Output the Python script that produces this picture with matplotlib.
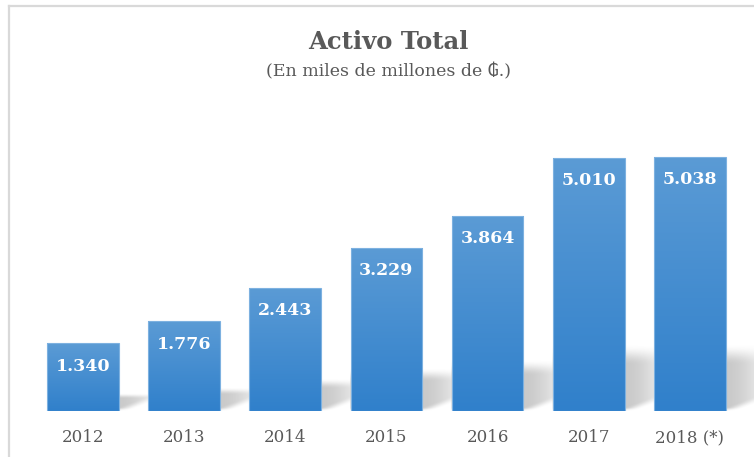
import numpy as np
import matplotlib
matplotlib.use("Agg")
import matplotlib.pyplot as plt
from matplotlib.colors import LinearSegmentedColormap
from matplotlib.lines import Line2D

# data
years = ['2012', '2013', '2014', '2015', '2016', '2017', '2018 (*)']
activo = [1340, 1776, 2443, 3229, 3864, 5010, 5038]
value_labels = ['1.340', '1.776', '2.443', '3.229', '3.864', '5.010', '5.038']

W, H = 754, 457
DPI = 100
serif = ['DejaVu Serif', 'DejaVu Sans']
gray = '#595959'

fig = plt.figure(figsize=(W / DPI, H / DPI), dpi=DPI)
ax_rect = [0.043, 0.1007, 0.939, 0.663]
ax = fig.add_axes(ax_rect)
xlim = (-0.5, 6.5)
ylim = (0, 6000)

# soft shadow to the lower right of every bar, computed in pixel space
ax_w = ax_rect[2] * W
ax_h = ax_rect[3] * H
px_x = ax_w / (xlim[1] - xlim[0])
px_y = ax_h / (ylim[1] - ylim[0])
extra = W - (ax_rect[0] + ax_rect[2]) * W  # let the shadow run to the right edge
ny, nx = int(ax_h), int(ax_w + extra)
gx, gy = np.meshgrid(np.arange(nx) + 0.5, np.arange(ny) + 0.5)
alpha = np.zeros((ny, nx))
bw = 0.71
b = 0.25      # shadow height relative to bar height
k = 0.38      # slope of the lower edge
reach = 60.0  # horizontal fade-out distance (px)


def smooth(z):
    z = np.clip(z, 0, 1)
    return z * z * (3 - 2 * z)


for i, v in enumerate(activo):
    x0 = (i - bw / 2 - xlim[0]) * px_x
    x1 = (i + bw / 2 - xlim[0]) * px_x
    top = b * v * px_y
    r = gx - x1
    low = smooth((gy - r * k) / 8.0 + 0.5)
    hi = smooth((top - gy) / (0.32 * top) + 0.15)
    side = smooth(1 - r / reach) * (gx > x0)
    base = np.clip(gy / 3.0, 0, 1)
    alpha = np.maximum(alpha, 0.55 * low * hi * side * base)
rgba = np.zeros((ny, nx, 4))
rgba[..., :3] = 0.62
rgba[..., 3] = alpha
x_ext = xlim[1] + extra / px_x
sh = ax.imshow(rgba, extent=(xlim[0], x_ext, ylim[0], ylim[1]), origin='lower',
               aspect='auto', zorder=1, interpolation='bilinear')
sh.set_clip_on(False)

# bars with vertical gradient
bars = ax.bar(range(len(years)), activo, width=bw, color='none',
              edgecolor='#7DB1E0', linewidth=0.8, zorder=3)
cmap = LinearSegmentedColormap.from_list('blu', ['#3080CB', '#5B9BD5'])
grad = np.linspace(0, 1, 256).reshape(-1, 1)
for bar in bars:
    x = bar.get_x()
    im = ax.imshow(grad, cmap=cmap, origin='lower', aspect='auto',
                   extent=(x, x + bar.get_width(), 0, bar.get_height()),
                   zorder=2)
    im.set_clip_path(bar)

for i, (v, lab) in enumerate(zip(activo, value_labels)):
    ax.text(i, v - 450, lab, ha='center', va='center', color='white',
            fontsize=12.5, fontweight='bold', family=serif, zorder=4)

ax.set_xticks(range(len(years)))
ax.set_xticklabels(years, family=serif, fontsize=12, color=gray)
ax.tick_params(axis='x', length=0, pad=13)
ax.set_yticks([])
for s in ax.spines.values():
    s.set_visible(False)
ax.set_xlim(*xlim)
ax.set_ylim(*ylim)

cx = 388 / W
fig.text(cx, 1 - 42 / H, 'Activo Total', ha='center', va='center',
         fontsize=17.5, fontweight='bold', color=gray, family=serif)
fig.text(cx, 1 - 72 / H, '(En miles de millones de \u20b2.)', ha='center',
         va='center', fontsize=12.5, color=gray, family=serif)

# chart frame (top and left edges visible)
fig.add_artist(Line2D([9 / W, 1], [1 - 6 / H, 1 - 6 / H], color='#D9D9D9', lw=1.6))
fig.add_artist(Line2D([9 / W, 9 / W], [0, 1 - 6 / H], color='#D9D9D9', lw=1.6))

fig.savefig('out.png', dpi=DPI)
